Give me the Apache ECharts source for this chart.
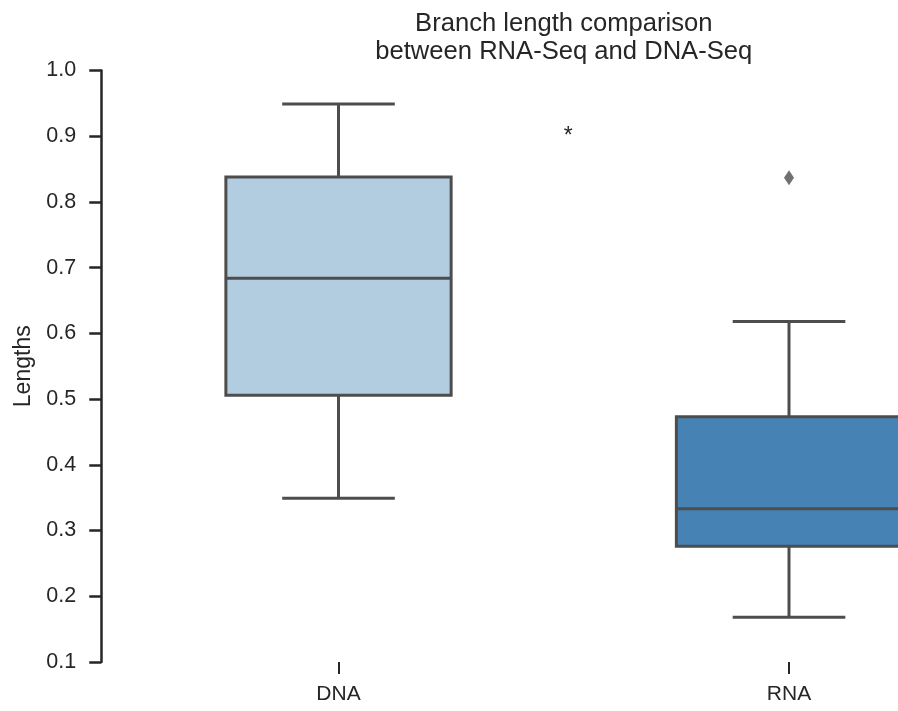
<!DOCTYPE html>
<html><head><meta charset="utf-8">
<script src="https://cdn.jsdelivr.net/npm/echarts@6/dist/echarts.min.js"></script>
<style>html,body{margin:0;padding:0;background:#fff;overflow:hidden;width:898px;height:711px}#c{width:1030px;height:711px}</style>
</head><body><div id="c"></div>
<script>
const categories = ['DNA', 'RNA'];
const lowerWhisker = [0.349, 0.168];
const q1 = [0.506, 0.276];
const median = [0.684, 0.333];
const q3 = [0.838, 0.473];
const upperWhisker = [0.949, 0.618];
const outlierCategory = [1];
const outlierValue = [0.837];
const annotationText = ['*'];
const annotationX = [0.5];
const annotationY = [0.9];
const titleLines = ['Branch length comparison', 'between RNA-Seq and DNA-Seq'];
const yLabel = 'Lengths';
const yMin = 0.1, yMax = 1.0, yStep = 0.1;

const FONT = "'Liberation Sans', Arial, Helvetica, sans-serif";
const TEXT = '#262626';
const LINE = '#4d4d4d';
const FILLS = ['#b3cde0', '#4682b4'];

const boxData = categories.map((c, i) => [i, lowerWhisker[i], q1[i], median[i], q3[i], upperWhisker[i]]);
const outlierData = outlierCategory.map((c, i) => [c, outlierValue[i]]);
const annotationData = annotationX.map((x, i) => [x, annotationY[i]]);

function renderBox(params, api) {
  const i = api.value(0);
  const band = api.size([1, 0])[0];
  const half = band * 0.25;
  const capHalf = half * 0.5;
  const pLow = api.coord([i, api.value(1)]);
  const pQ1 = api.coord([i, api.value(2)]);
  const pMed = api.coord([i, api.value(3)]);
  const pQ3 = api.coord([i, api.value(4)]);
  const pHigh = api.coord([i, api.value(5)]);
  const x = pQ1[0];
  const ls = {stroke: LINE, lineWidth: 3, fill: null};
  return {type: 'group', children: [
    {type: 'line', shape: {x1: x, y1: pQ3[1], x2: x, y2: pHigh[1]}, style: ls},
    {type: 'line', shape: {x1: x, y1: pQ1[1], x2: x, y2: pLow[1]}, style: ls},
    {type: 'line', shape: {x1: x - capHalf, y1: pHigh[1], x2: x + capHalf, y2: pHigh[1]}, style: ls},
    {type: 'line', shape: {x1: x - capHalf, y1: pLow[1], x2: x + capHalf, y2: pLow[1]}, style: ls},
    {type: 'rect', shape: {x: x - half, y: pQ3[1], width: 2 * half, height: pQ1[1] - pQ3[1]},
      style: {fill: FILLS[i], stroke: LINE, lineWidth: 3}},
    {type: 'line', shape: {x1: x - half, y1: pMed[1], x2: x + half, y2: pMed[1]}, style: ls}
  ]};
}

function renderAnnotation(params, api) {
  const p = api.coord([api.value(0), api.value(1)]);
  return {type: 'text', x: p[0], y: p[1],
    style: {text: annotationText[params.dataIndex], fill: TEXT, fontSize: 23, fontFamily: FONT,
      align: 'left', verticalAlign: 'middle'}};
}

const chart = echarts.init(document.getElementById('c'), null, {renderer: 'canvas'});
chart.setOption({
  animation: false,
  backgroundColor: '#ffffff',
  grid: {left: 113.25, width: 901, top: 70.5, bottom: 49, containLabel: false},
  graphic: [{
    type: 'text', x: 563.75, y: 10,
    style: {text: titleLines.join('\n'), align: 'center', verticalAlign: 'top',
      fontSize: 25.6, lineHeight: 28, fill: TEXT, fontFamily: FONT}
  }],
  xAxis: [{
    type: 'category', data: categories, boundaryGap: true,
    axisLine: {show: false},
    axisTick: {show: true, alignWithLabel: true, length: 12, lineStyle: {color: TEXT, width: 2}},
    axisLabel: {color: TEXT, fontSize: 21, fontFamily: FONT, margin: 22},
    splitLine: {show: false}
  }, {
    type: 'value', min: -0.5, max: 1.5, show: false
  }],
  yAxis: {
    type: 'value', min: yMin, max: yMax, interval: yStep, offset: 12,
    axisLine: {show: true, onZero: false, lineStyle: {color: TEXT, width: 2.5}},
    axisTick: {show: true, length: 12, lineStyle: {color: TEXT, width: 2.5}},
    axisLabel: {color: TEXT, fontSize: 21.5, fontFamily: FONT, margin: 25,
      formatter: v => v.toFixed(1)},
    splitLine: {show: false},
    name: yLabel, nameLocation: 'middle', nameGap: 62,
    nameTextStyle: {color: TEXT, fontSize: 23, fontFamily: FONT}
  },
  series: [{
    type: 'custom', xAxisIndex: 0, yAxisIndex: 0, data: boxData, renderItem: renderBox,
    clip: false, z: 2
  }, {
    type: 'scatter', xAxisIndex: 0, yAxisIndex: 0, data: outlierData,
    symbol: 'diamond', symbolSize: [10, 15], itemStyle: {color: LINE}, z: 3
  }, {
    type: 'custom', xAxisIndex: 1, yAxisIndex: 0, data: annotationData, renderItem: renderAnnotation, z: 4
  }]
});
</script></body></html>
